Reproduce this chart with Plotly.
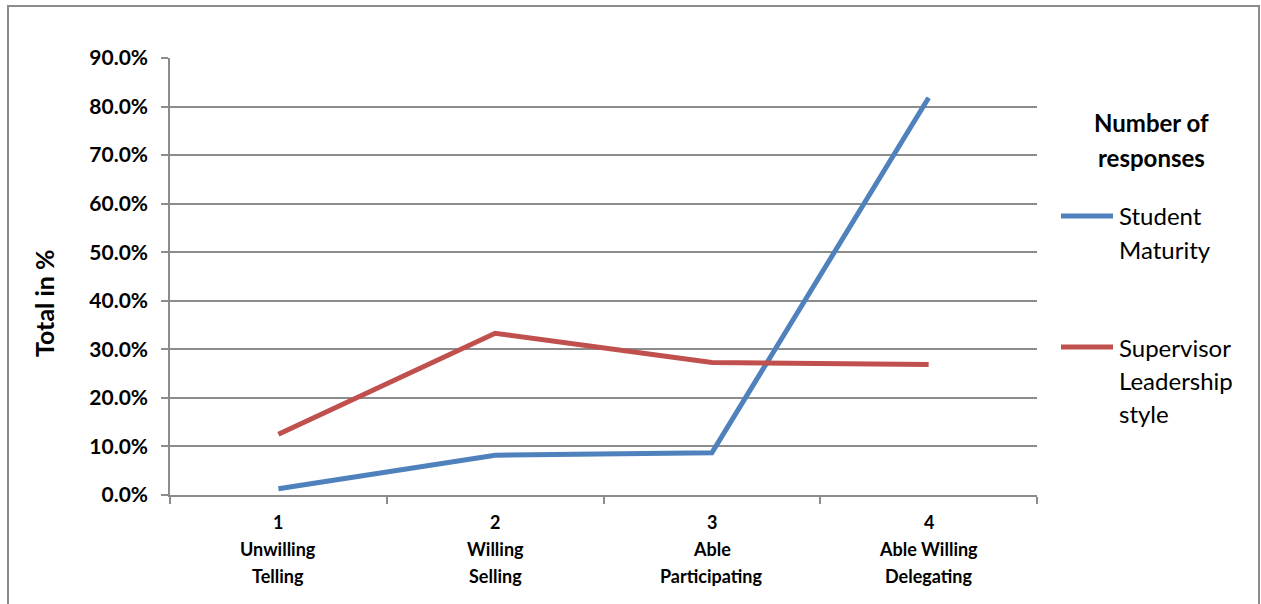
import plotly.graph_objects as go

# Hersey-Blanchard readiness levels / leadership styles
level_numbers = ["1", "2", "3", "4"]
level_names = [["Unwilling", "Telling"], ["Willing", "Selling"],
               ["Able", "Participating"], ["Able Willing", "Delegating"]]

# Share of responses per level, in percent
student_maturity = [1.3, 8.2, 8.7, 81.8]
supervisor_style = [12.5, 33.3, 27.3, 26.9]

series_names = [["Student", "Maturity"], ["Supervisor", "Leadership", "style"]]
series_colors = ["#4F81BD", "#C0504D"]
legend_title = ["Number of", "responses"]
y_title = "Total in %"

y_ticks = [0, 10, 20, 30, 40, 50, 60, 70, 80, 90]

categories = level_numbers

W, H = 1261, 604
M_L, M_R, M_T, M_B = 170, 224, 58, 109
plot_w = W - M_L - M_R
plot_h = H - M_T - M_B


def px_x(px):
    return (px - M_L) / plot_w


def px_y(py):
    return (H - M_B - py) / plot_h


font_family = "Lato, 'Open Sans', sans-serif"

fig = go.Figure()
for name, vals, col in zip(series_names, [student_maturity, supervisor_style], series_colors):
    fig.add_trace(go.Scatter(
        x=categories, y=vals, mode="lines", name=" ".join(name),
        line=dict(color=col, width=5), showlegend=False,
    ))

annotations = []

# category labels under the x axis: number, then two lines of text
# (x given as the category index on the category axis)
for idx, (cat, lines) in enumerate(zip(categories, level_names)):
    for k, txt in enumerate([cat] + lines):
        annotations.append(dict(
            x=idx, xref="x", y=px_y(522 + 27 * k), yref="paper",
            text=f"<b>{txt}</b>", showarrow=False, xanchor="center", yanchor="middle",
            font=dict(size=18, family=font_family, color="black"),
        ))

# rotated y-axis title
annotations.append(dict(
    x=px_x(44), xref="paper", y=px_y(304), yref="paper",
    text=f"<b>{y_title}</b>", textangle=-90, showarrow=False,
    xanchor="center", yanchor="middle",
    font=dict(size=25, family=font_family, color="black"),
))

# legend block on the right
legend_cx = 1151
for k, txt in enumerate(legend_title):
    annotations.append(dict(
        x=px_x(legend_cx), xref="paper", y=px_y(123 + 34 * k), yref="paper",
        text=f"<b>{txt}</b>", showarrow=False, xanchor="center", yanchor="middle",
        font=dict(size=24, family=font_family, color="black"),
    ))

shapes = []
legend_rows = [216, 347]
for row, lines, col in zip(legend_rows, series_names, series_colors):
    shapes.append(dict(type="line", xref="paper", yref="paper",
                       x0=px_x(1061), x1=px_x(1113), y0=px_y(row), y1=px_y(row),
                       line=dict(color=col, width=5)))
    for k, txt in enumerate(lines):
        annotations.append(dict(
            x=px_x(1117), xref="paper", y=px_y(row + 33 * k), yref="paper",
            text=txt, showarrow=False, xanchor="left", yanchor="middle",
            font=dict(size=24, family=font_family, color="black"),
        ))

# outer chart frame
shapes.append(dict(type="rect", xref="paper", yref="paper",
                   x0=px_x(8), x1=px_x(1259), y0=px_y(640), y1=px_y(6),
                   line=dict(color="#8c8c8c", width=2), fillcolor="rgba(0,0,0,0)", layer="below"))

fig.update_layout(
    width=W, height=H,
    margin=dict(l=M_L, r=M_R, t=M_T, b=M_B, autoexpand=False),
    paper_bgcolor="white", plot_bgcolor="white",
    font=dict(family=font_family, color="black"),
    showlegend=False,
    annotations=annotations,
    shapes=shapes,
    xaxis=dict(
        type="category", range=[-0.5, 3.5],
        showgrid=False, showline=True, linecolor="#8c8c8c", linewidth=1.5,
        ticks="outside", tickson="boundaries", ticklen=7, tickcolor="#8c8c8c", tickwidth=1.5,
        showticklabels=False, zeroline=False,
    ),
    yaxis=dict(
        range=[0, 90], tickvals=y_ticks,
        ticktext=[f"<b>{v:.1f}%</b>" for v in y_ticks],
        showgrid=True, gridcolor="#8c8c8c", gridwidth=1.5,
        showline=True, linecolor="#8c8c8c", linewidth=1.5,
        ticks="outside", ticklen=7, tickcolor="#8c8c8c", tickwidth=1.5,
        ticklabelstandoff=9,
        tickfont=dict(size=21, family=font_family),
        zeroline=False,
    ),
)

fig.write_html("out.html")
